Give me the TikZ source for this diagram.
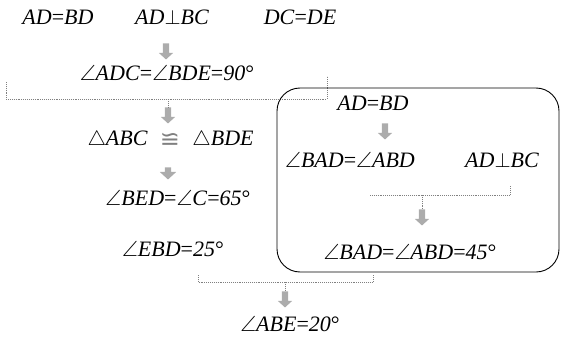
\documentclass[tikz,border=0pt]{standalone}
\usepackage{amssymb}
\usepackage{amsmath}
\usepackage{fontspec}
\setmainfont{Liberation Serif}
\newfontfamily\symfont{DejaVu Sans}
\usepackage{tikz}
\usetikzlibrary{positioning}
\usetikzlibrary{shapes.arrows}

\newcommand{\ang}{$\angle$}
\newcommand{\degr}{\textup{°}}

\tikzset{
  stmt/.style={inner sep=0pt, font=\fontsize{22}{24}\selectfont\itshape},
  darr/.style={single arrow, shape border rotate=270, fill=gray!65, draw=none,
    minimum height=16pt, inner sep=3pt, single arrow head extend=4pt,
    single arrow tip angle=95},
  brack/.style={gray, line width=0.9pt, densely dotted},
  panel/.style={black, line width=0.9pt, rounded corners=23pt},
}

\begin{document}
\begin{tikzpicture}[x=1pt, y=-1pt]

\useasboundingbox (0,0) rectangle (562,337);

% left column
\node[stmt] (t1) at (58,17) {AD\textup{=}BD};
\node[stmt] (t2) at (172,17) {AD$\perp$BC};
\node[stmt] (t3) at (300,17) {DC\textup{=}DE};

\node[darr] (a1) at (166,50) {};

\node[stmt] (t4) at (167,73) {\ang ADC\textup{=}\ang BDE\textup{=}90\degr};

\coordinate (p1) at (6,82);
\coordinate (p2) at (6,99);
\coordinate (p3) at (327,99);
\coordinate (p4) at (327,76);
\coordinate (p5) at (168,99);
\draw[brack] (p1) -- (p2) -- (p3) -- (p4);

\node[darr] (a2) at (168,114) {};
\draw[brack] (p5) -- (a2.north);

\node[stmt, font=\fontsize{24}{26}\symfont, text=gray] (cg) at (170,140) {≌};
\node[stmt, left=12pt of cg] (t5) {$\triangle$ABC};
\node[stmt, right=12pt of cg] (t6) {$\triangle$BDE};

\node[darr, minimum height=12pt, single arrow head extend=5pt] (a3) at (168,172) {};

\node[stmt] (t7) at (178,198) {\ang BED\textup{=}\ang C\textup{=}65\degr};

\node[stmt] (t8) at (173,249) {\ang EBD\textup{=}25\degr};

% right panel
\draw[panel] (277,88) rectangle (559,272);

\node[stmt] (b1) at (373,103) {AD\textup{=}BD};
\node[darr] (a4) at (385,130) {};
\node[stmt] (b2) at (350,160) {\ang BAD\textup{=}\ang ABD};
\node[stmt] (b3) at (502,160) {AD$\perp$BC};

\coordinate (q1) at (370,195);
\coordinate (q2) at (510,195);
\coordinate (q3) at (510,185);
\coordinate (q4) at (422,195);
\draw[brack] (q1) -- (q2) -- (q3);

\node[darr] (a6) at (422,216) {};
\draw[brack] (q4) -- (a6.north);

\node[stmt] (b4) at (410,252) {\ang BAD\textup{=}\ang ABD\textup{=}45\degr};

% bottom
\coordinate (r1) at (198,275);
\coordinate (r2) at (198,282);
\coordinate (r3) at (373,282);
\coordinate (r4) at (373,275);
\coordinate (r5) at (285,282);
\draw[brack] (r1) -- (r2) -- (r3) -- (r4);

\node[darr] (a5) at (285,298) {};
\draw[brack] (r5) -- (a5.north);

\node[stmt] (t9) at (290,324) {\ang ABE\textup{=}20\degr};

\end{tikzpicture}
\end{document}
